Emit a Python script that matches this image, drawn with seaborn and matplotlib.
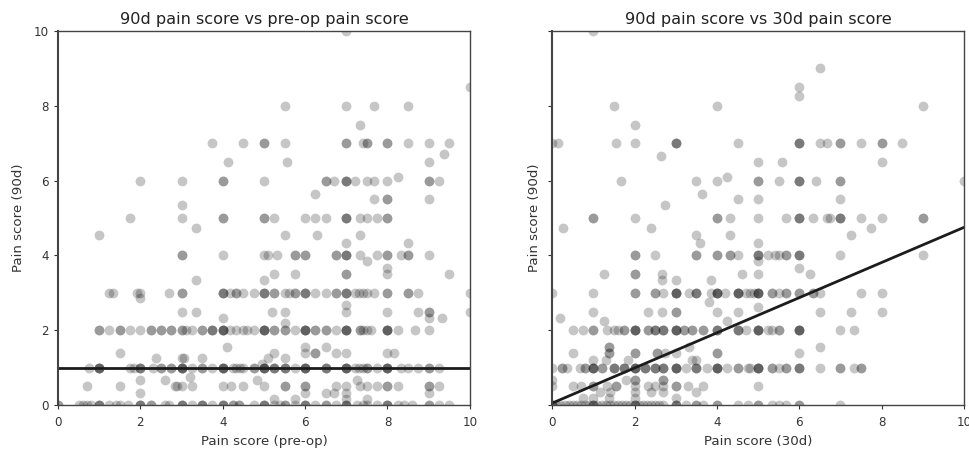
# Import packages
import pandas as pd
import matplotlib.pyplot as plt
import seaborn as sns
sns.set_theme(style='ticks')

# Pain score readings, one list of x values per 90d score level
preop_levels = [10, 8.5, 8, 7.5, 7, 6.7, 6.5, 6.1, 6, 5.65, 5.5, 5.35, 5, 4.72, 4.54, 4.33, 4, 3.85, 3.65, 3.5, 3.35,
                3, 2.85, 2.67, 2.5, 2.33, 2.2, 2, 1.55, 1.4, 1.25, 1.1, 1, 0.75, 0.67, 0.5, 0.33, 0.15, 0]
preop_x = [
    [7],
    [10],
    [5.5, 7, 7.67, 8.5],
    [7.33],
    [3.75, 4.5, 5, 5, 5.5, 7, 7, 7.4, 7.5, 7.5, 8, 8, 8.5, 9, 9.5],
    [9.37],
    [4.13, 5.56, 9],
    [8.26],
    [2, 3, 4, 4, 5, 6.5, 6.5, 6.7, 7, 7, 7, 7.2, 7.5, 7.67, 8, 9, 9, 9.25],
    [6.25],
    [7.67, 8, 8, 9],
    [3],
    [1.75, 3, 4, 4, 5, 5, 5.25, 6, 6.25, 6.5, 7, 7, 7, 7.33, 7.5, 7.75, 8, 8],
    [3.35],
    [1, 5.5, 6.3, 7.33],
    [7, 8.5],
    [3, 3, 4, 5, 5.1, 5.33, 5.75, 5.75, 6, 6, 6.75, 6.75, 7, 7, 7, 7.33, 7.75, 8, 8, 8.33, 8.5, 8.5, 9],
    [7.5],
    [8],
    [5.25, 5.75, 7, 7, 8, 9.5],
    [3.35, 5],
    [1.25, 1.33, 1.93, 2, 2.7, 3, 3, 4, 4, 4, 4.17, 4.33, 4.33, 4.5, 4.75, 5, 5, 5, 5.25, 5.25, 5.5, 5.62, 5.75, 5.75,
     6, 6, 6, 6.25, 6.5, 6.75, 6.75, 7, 7, 7, 7.2, 7.3, 7.4, 7.5, 7.67, 8, 8, 8.5, 8.5, 8.75, 10],
    [2],
    [7],
    [3, 3.35, 5.2, 5.5, 7, 8, 8.75, 9, 9, 10],
    [4, 9, 9.33],
    [5.5],
    [1, 1, 1.25, 1.5, 1.5, 1.75, 2, 2.25, 2.25, 2.5, 2.5, 2.75, 2.75, 3, 3, 3.1, 3.25, 3.5, 3.5, 3.75, 3.75, 3.75,
     4, 4, 4, 4, 4.17, 4.33, 4.5, 4.58, 4.75, 5, 5, 5, 5, 5.25, 5.25, 5.5, 5.5, 5.75, 6, 6, 6, 6, 6.25, 6.25, 6.5,
     6.5, 6.75, 7, 7, 7, 7, 7.33, 7.33, 7.4, 7.5, 7.6, 8, 8, 8, 8, 8.25, 8.66, 9],
    [4.1, 6, 6.5],
    [1.5, 5.25, 6, 6.25, 6.25, 6.75, 7, 8, 8.17],
    [2.37, 3, 3.05, 3.5, 5.1, 5.5],
    [4.95],
    [0.75, 1, 1, 1, 1, 1.75, 1.85, 2, 2, 2, 2.3, 2.5, 2.5, 2.75, 2.75, 3, 3, 3, 3, 3.25, 3.5, 3.5, 3.75, 4, 4, 4, 4,
     4.25, 4.33, 4.42, 4.5, 4.75, 4.75, 5, 5, 5, 5, 5.25, 5.25, 5.25, 5.5, 5.5, 5.5, 5.75, 6, 6, 6, 6, 6.5, 6.5, 6.5,
     7, 7, 7, 7, 7.2, 7.3, 7.4, 7.5, 7.5, 7.75, 8, 8, 8, 8, 8.33, 8.5, 8.75, 9, 9, 9.25],
    [3.2],
    [2, 2.6, 4.83, 7.25],
    [0.7, 1.5, 2.85, 2.9, 3, 3.25, 4, 4.2, 4.5, 5, 5.5, 5.5, 6, 6, 6.75, 7, 7.33, 7.5, 7.75, 8, 8, 8.25, 9, 9, 9.25],
    [2, 6, 6.5, 6.7, 7, 9],
    [5.25, 5.75, 7, 7.5],
    [0, 0, 0.5, 0.6, 0.7, 0.8, 1, 1, 1, 1.25, 1.4, 1.5, 1.7, 2, 2, 2, 2.25, 2.25, 2.6, 2.7, 3, 3, 3, 3.25, 3.5, 3.5,
     3.5, 3.75, 4, 4, 4, 4.25, 4.25, 4.4, 4.4, 4.75, 5, 5, 5, 5.25, 5.4, 5.5, 5.5, 5.75, 6, 6, 6, 6.25, 6.5, 6.5,
     6.75, 7, 7, 7, 7.25, 7.4, 7.5, 7.75, 8, 8, 8, 8.25, 8.4, 8.6, 9, 9, 9.25, 9.5],
]

d30_levels = [10, 9, 8.5, 8.25, 8, 7.5, 7, 6.67, 6.5, 6.1, 6, 5.65, 5.5, 5.35, 5, 4.72, 4.55, 4.33, 4, 3.85, 3.65, 3.5,
              3.35, 3, 2.75, 2.62, 2.5, 2.33, 2.25, 2, 1.55, 1.4, 1.2, 1, 0.67, 0.5, 0.35, 0.2, 0]
d30_x = [
    [1],
    [6.5],
    [6],
    [6],
    [1.5, 4, 9],
    [2],
    [0, 0.13, 1.56, 2, 3, 3, 3, 4.5, 6, 6, 6, 6.5, 6.67, 7, 7, 7.5, 8, 8, 8.5],
    [2.65],
    [5, 5.57, 8],
    [4.25],
    [1.67, 3.5, 4, 5, 5, 5.5, 6, 6, 6, 6.4, 7, 7, 10],
    [3.65],
    [4.5, 5, 7],
    [2.73],
    [1, 1, 2, 4, 4, 4.33, 5, 5.67, 6, 6, 6, 6.33, 6.67, 6.75, 7, 7, 7, 7.5, 8, 9, 9],
    [0.26, 2.4, 7.75],
    [3.5, 4.33, 7.25],
    [3.6, 5],
    [2, 2, 2.5, 3.5, 3.5, 4, 4, 4.33, 4.33, 4.5, 5, 5, 5, 5.25, 5.4, 5.5, 5.67, 5.67, 6, 6, 6, 7, 9],
    [5],
    [6],
    [1.25, 2, 2, 2.67, 4.6, 5, 6.25],
    [2.67, 3, 3.85],
    [0, 1, 2, 2, 2.5, 2.5, 2.7, 3, 3, 3, 3, 3.33, 3.5, 3.5, 3.5, 3.85, 4, 4, 4, 4, 4.2, 4.5, 4.5, 4.5, 4.5, 4.7,
     4.8, 4.9, 5, 5, 5, 5, 5.33, 5.33, 5.5, 5.67, 5.67, 6, 6, 6.33, 6.33, 6.5, 7.5, 8],
    [3.8],
    [5],
    [1, 2.33, 2.67, 3, 3, 4, 4.5, 6.5, 7.25, 8],
    [0.2],
    [1.25, 4.25],
    [0.5, 0.75, 1, 1, 1.33, 1.5, 1.6, 1.75, 1.75, 2, 2, 2, 2, 2.33, 2.33, 2.5, 2.5, 2.5, 2.7, 2.7, 2.7, 3, 3, 3, 3,
     3.2, 3.2, 3.4, 3.4, 3.67, 3.67, 4, 4, 4, 4.5, 4.5, 4.5, 4.7, 5, 5, 5, 5, 5.25, 5.33, 5.5, 5.5, 6, 6, 6, 6, 7, 7.33],
    [1.37, 1.37, 3.33, 6.5],
    [0.5, 1.37, 1.37, 2, 2, 2.55, 2.55, 2.75, 3, 4, 4, 6],
    [1, 1.3, 1.85, 3.4, 3.5],
    [0, 0.25, 0.25, 0.35, 0.67, 0.8, 0.8, 1, 1, 1, 1, 1.2, 1.2, 1.5, 1.5, 1.5, 1.75, 1.75, 1.75, 2, 2, 2, 2, 2.25,
     2.25, 2.25, 2.5, 2.5, 2.5, 2.7, 2.7, 2.7, 3, 3, 3, 3, 3.25, 3.5, 3.5, 3.5, 3.75, 4, 4, 4, 4, 4.25, 4.5, 4.5, 4.75,
     4.8, 5, 5, 5, 5, 5.33, 5.33, 5.5, 5.67, 5.67, 6, 6, 6, 6.5, 7, 7, 7.33, 7.5, 7.5],
    [0, 1.8, 2, 2, 2.7, 2.7],
    [0, 0.5, 0.7, 1, 1, 1.33, 1.55, 1.55, 2, 2.33, 2.5, 2.7, 3, 3, 3.3, 3.67, 5],
    [1.17, 1.4, 2, 2.4, 2.7, 3.5],
    [0.75, 1, 1.37, 2, 3],
    [0, 0, 0, 0.1, 0.2, 0.3, 0.4, 0.5, 0.6, 0.7, 0.8, 0.9, 1, 1, 1, 1.1, 1.2, 1.3, 1.4, 1.5, 1.6, 1.7, 1.8, 1.9, 2, 2, 2,
     2.1, 2.2, 2.3, 2.4, 2.5, 2.6, 2.7, 3, 3, 3, 3.25, 3.5, 3.5, 3.67, 4, 4, 4.5, 4.75, 5, 5, 5.33, 5.5, 5.67, 6, 6, 7],
]

# Fitted lines
fit_x = [0, 10]
preop_fit_y = [1.0, 1.0]
d30_fit_y = [0.05, 4.75]

titles = ['90d pain score vs pre-op pain score', '90d pain score vs 30d pain score']
xlabels = ['Pain score (pre-op)', 'Pain score (30d)']


def to_frame(levels, rows):
    records = [(x, level) for level, row in zip(levels, rows) for x in row]
    return pd.DataFrame(records, columns=['x', 'y'])


# Create figure and save as PNG
fig, axes = plt.subplots(1, 2, figsize=(9.7, 4.49), dpi=100, sharey=True)
fig.subplots_adjust(left=58 / 970, right=964 / 970, top=1 - 31 / 449, bottom=1 - 405 / 449, wspace=0.2)

panels = [(preop_levels, preop_x, preop_fit_y), (d30_levels, d30_x, d30_fit_y)]
label_x = [-0.08, -0.027]
for i, (levels, rows, fit_y) in enumerate(panels):
    ax = axes[i]
    df = to_frame(levels, rows)
    sns.scatterplot(x='x', y='y', data=df, ax=ax, color='#111111', alpha=0.24, s=50, linewidth=0)
    sns.lineplot(x=fit_x, y=fit_y, ax=ax, color='#1c1c1c', linewidth=2.0)
    ax.set_xlim(0, 10)
    ax.set_ylim(0, 10)
    ax.set_xticks([0, 2, 4, 6, 8, 10])
    ax.set_yticks([0, 2, 4, 6, 8, 10])
    ax.tick_params(labelsize=8.6, colors='#333333', length=3, width=0.8)
    ax.tick_params(axis='x', pad=5)
    ax.set_title(titles[i], fontsize=11.6, color='#222222', pad=5)
    ax.set_xlabel(xlabels[i], fontsize=9.6, color='#333333', labelpad=4)
    ax.set_ylabel('Pain score (90d)', fontsize=9.6, color='#333333')
    ax.yaxis.label.set_visible(True)
    ax.yaxis.set_label_coords(label_x[i], 0.5)
    for side in ['left', 'right', 'top', 'bottom']:
        ax.spines[side].set_visible(True)
        ax.spines[side].set_color('#444444')
        ax.spines[side].set_linewidth(1.0)
    ax.spines['left'].set_linewidth(1.5)

plt.savefig('out.png', dpi=100)
